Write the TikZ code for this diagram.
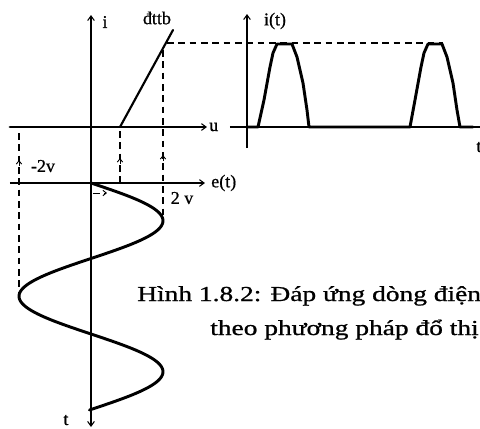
\documentclass[tikz,border=0pt]{standalone}
\usepackage{fontspec}
\setmainfont[FakeBold=0.8]{Liberation Serif}
\newfontfamily\capfont[FakeBold=0.8]{Liberation Serif}
\usetikzlibrary{arrows.meta}
\begin{document}
\begin{tikzpicture}[x=0.75pt,y=-0.75pt,
  axisline/.style={line width=0.8pt},
  tipend/.style={-{Straight Barb[length=3.5pt,width=5pt]}},
  tipboth/.style={{Straight Barb[length=3.5pt,width=5pt]}-{Straight Barb[length=3.5pt,width=5pt]}},
  heavy/.style={line width=2.2pt, line join=round, line cap=round},
  guide/.style={dash pattern=on 5pt off 3.5pt, line width=0.8pt},
  smalltip/.style={line width=0.7pt, -{Straight Barb[length=2.5pt,width=4pt]}},
  lbl/.style={font=\fontsize{13.5}{15}\selectfont, inner sep=0pt},
  captext/.style={anchor=base west, inner sep=0pt, font=\capfont\fontsize{16}{18}\selectfont}]
\useasboundingbox (0,0) rectangle (480,429);
\clip (0,0) rectangle (480,429);
% coordinates
\coordinate (iTop) at (91,15);
\coordinate (tBot) at (91,427);
\coordinate (uL) at (10,127);
\coordinate (uR) at (207,127);
\coordinate (eL) at (10,183);
\coordinate (eR) at (205,183);
\coordinate (itB) at (247,148);
\coordinate (itT) at (247,14);
\coordinate (tL) at (230,127);
\coordinate (tR) at (486,127);
\coordinate (knee) at (120,127);
\coordinate (ktop) at (173,30);
% axes
\draw[axisline,tipboth] (tBot) -- (iTop);
\draw[axisline,tipend] (uL) -- (uR);
\draw[axisline,tipend] (eL) -- (eR);
\draw[axisline,tipend] (itB) -- (itT);
\draw[axisline,tipend] (tL) -- (tR);
% characteristic
\draw[heavy] (uL) -- (knee);
\draw[line width=1.6pt, line cap=round] (knee) -- (ktop);
% dashed guides
\draw[guide] (167,43) -- (443,43);
\draw[guide] (19,133) -- (19,292);
\draw[guide] (120,131) -- (120,183);
\draw[guide] (163,50) -- (163,215);
\draw[smalltip] (19,166) -- (19,160);
\draw[smalltip] (120,164) -- (120,158);
\draw[smalltip] (163,161) -- (163,155);
\draw[guide,smalltip] (93,193) -- (107,193);
% sine e(t)
\draw[heavy] plot[domain=0:227, samples=150, variable=\s] ({91+72*sin(2.38411*\s)}, {183+\s});
% current pulses
\draw[heavy] (248,127) -- (258,127) -- (264,100) -- (270,67) -- (273,53) -- (277,44) -- (292,44)
  -- (297,57) -- (303,83) -- (307,110) -- (309,127) -- (410,127)
  -- (415,100) -- (421,67) -- (424,53) -- (428,44) -- (442,44)
  -- (447,57) -- (453,83) -- (457,110) -- (460,127) -- (473,127);
% labels
\node[lbl] (li) at (105,22) {i};
\node[lbl] (ldttb) at (157,18) {đttb};
\node[lbl, anchor=west] (lu) at (209,127) {u};
\node[lbl] (lit) at (275,21) {i(t)};
\node[lbl] (lt2) at (479,147) {t};
\node[lbl] (lm2v) at (43,166) {-2v};
\node[lbl, anchor=west] (let) at (211,183) {e(t)};
\node[lbl] (l2v) at (182,198) {2 v};
\node[lbl] (lt) at (66,420) {t};
% caption
\node[captext] (cap1) at (137,301) {\scalebox{1.285}[1]{Hình 1.8.2: Đáp ứng dòng điện}};
\node[captext] (cap2) at (210,335) {\scalebox{1.285}[1]{theo phương pháp đổ thị}};
\end{tikzpicture}
\end{document}
